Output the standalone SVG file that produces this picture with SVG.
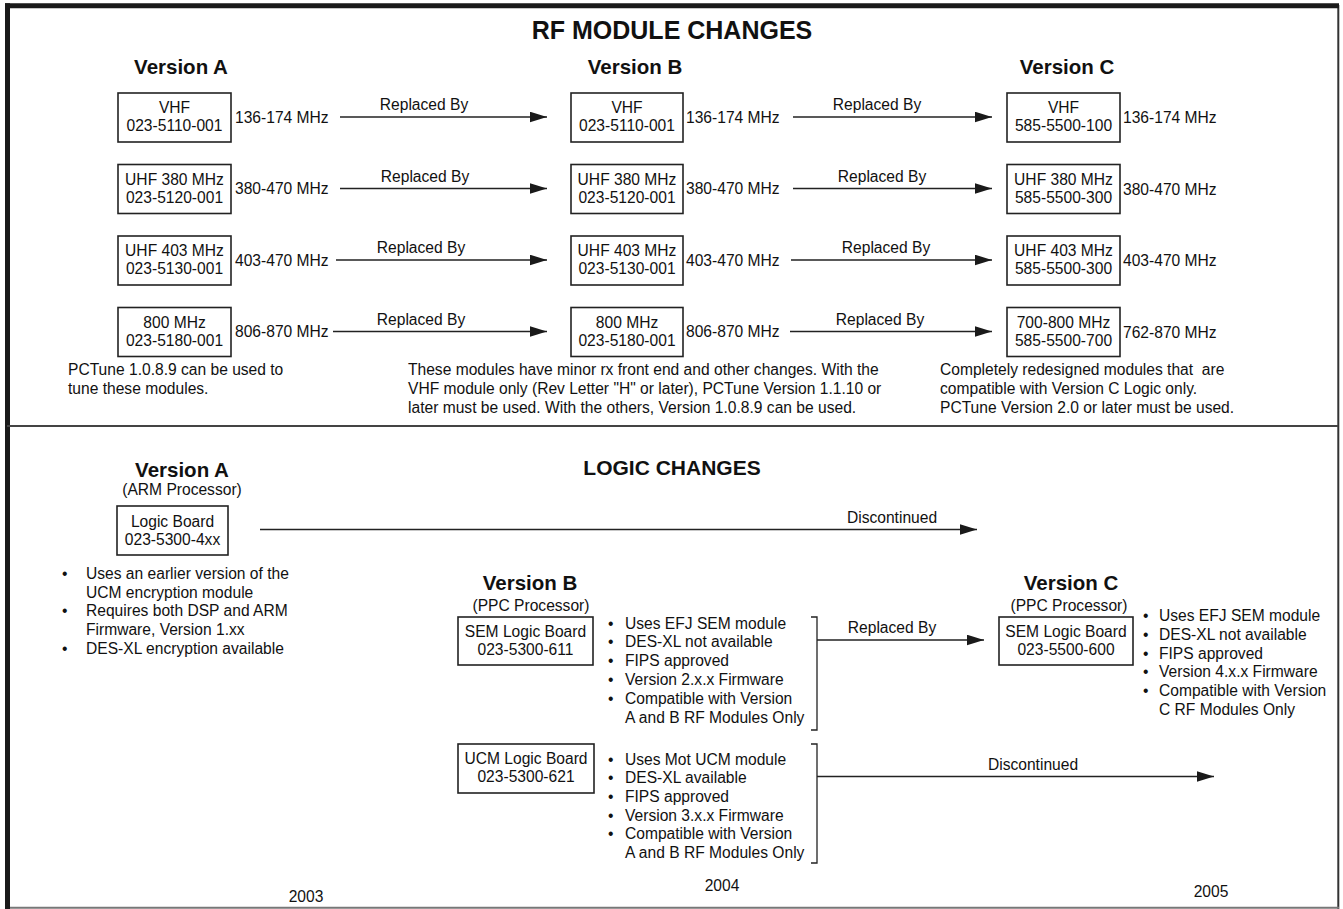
<svg xmlns="http://www.w3.org/2000/svg" width="1343" height="909" viewBox="0 0 1343 909">
<style>
text{font-family:"Liberation Sans",Arial,sans-serif;fill:#111;}
.t{font-size:15.6px;}
.c{text-anchor:middle;}
.h{font-size:20.5px;font-weight:bold;text-anchor:middle;}
.s{font-size:21px;font-weight:bold;text-anchor:middle;}
.box{fill:#fff;stroke:#222;stroke-width:1.6;}
.ln{fill:none;stroke:#222;stroke-width:1.3;}
.arr{marker-end:url(#ah);}
</style>
<defs>
<marker id="ah" markerUnits="userSpaceOnUse" markerWidth="17" markerHeight="11" refX="17" refY="5.3" orient="auto"><path d="M0,0 L17,5.3 L0,10.6 z" fill="#1a1a1a"/></marker>
</defs>
<rect x="0" y="0" width="1343" height="909" fill="#fff"/>
<g id="frame">
<line x1="1338.3" y1="5" x2="1338.3" y2="909" stroke="#333" stroke-width="2"/>
<line x1="5" y1="907.7" x2="1339" y2="907.7" stroke="#777" stroke-width="2"/>
<line x1="5" y1="5.8" x2="1339" y2="5.8" stroke="#1a1a1a" stroke-width="5"/>
<line x1="7.5" y1="3.3" x2="7.5" y2="909" stroke="#1a1a1a" stroke-width="5"/>
<line x1="7" y1="426" x2="1338" y2="426" stroke="#444" stroke-width="2"/>
</g>
<g id="titles">
<text class="s" x="672" y="38.5" style="font-size:25px">RF MODULE CHANGES</text>
<text class="h" x="181" y="74">Version A</text>
<text class="h" x="635" y="74">Version B</text>
<text class="h" x="1067" y="74">Version C</text>
<text class="s" x="672" y="474.5">LOGIC CHANGES</text>
</g>
<g id="connectors">
<line class="ln arr" x1="340" y1="117" x2="547" y2="117"/>
<line class="ln arr" x1="793" y1="117" x2="992" y2="117"/>
<line class="ln arr" x1="340" y1="188.5" x2="547" y2="188.5"/>
<line class="ln arr" x1="793" y1="188.5" x2="992" y2="188.5"/>
<line class="ln arr" x1="336" y1="260" x2="547" y2="260"/>
<line class="ln arr" x1="791" y1="260" x2="992" y2="260"/>
<line class="ln arr" x1="333" y1="331.5" x2="547" y2="331.5"/>
<line class="ln arr" x1="790" y1="331.5" x2="992" y2="331.5"/>
<line class="ln arr" x1="260" y1="529.5" x2="977" y2="529.5"/>
<path class="ln" d="M811,617 H817 V730 H811"/>
<line class="ln arr" x1="817" y1="640" x2="984" y2="640"/>
<path class="ln" d="M811,744 H817 V863 H811"/>
<line class="ln arr" x1="817" y1="776.5" x2="1214" y2="776.5"/>
<text class="t c" x="424" y="110">Replaced By</text>
<text class="t c" x="877" y="110">Replaced By</text>
<text class="t c" x="425" y="181.5">Replaced By</text>
<text class="t c" x="882" y="181.5">Replaced By</text>
<text class="t c" x="421" y="253">Replaced By</text>
<text class="t c" x="886" y="253">Replaced By</text>
<text class="t c" x="421" y="324.5">Replaced By</text>
<text class="t c" x="880" y="324.5">Replaced By</text>
<text class="t c" x="892" y="522.5">Discontinued</text>
<text class="t c" x="892" y="633">Replaced By</text>
<text class="t c" x="1033" y="769.5">Discontinued</text>
</g>
<g id="rfA1"><rect class="box" x="118" y="93" width="113" height="49"/><text class="t c" x="174.5" y="113">VHF</text><text class="t c" x="174.5" y="131">023-5110-001</text><text class="t" x="235" y="122.5">136-174 MHz</text></g>
<g id="rfB1"><rect class="box" x="571" y="93" width="112" height="49"/><text class="t c" x="627" y="113">VHF</text><text class="t c" x="627" y="131">023-5110-001</text><text class="t" x="686" y="122.5">136-174 MHz</text></g>
<g id="rfC1"><rect class="box" x="1007" y="93" width="113" height="49"/><text class="t c" x="1063.5" y="113">VHF</text><text class="t c" x="1063.5" y="131">585-5500-100</text><text class="t" x="1123" y="123">136-174 MHz</text></g>
<g id="rfA2"><rect class="box" x="118" y="164.5" width="113" height="49"/><text class="t c" x="174.5" y="184.5">UHF 380 MHz</text><text class="t c" x="174.5" y="202.5">023-5120-001</text><text class="t" x="235" y="194">380-470 MHz</text></g>
<g id="rfB2"><rect class="box" x="571" y="164.5" width="112" height="49"/><text class="t c" x="627" y="184.5">UHF 380 MHz</text><text class="t c" x="627" y="202.5">023-5120-001</text><text class="t" x="686" y="194">380-470 MHz</text></g>
<g id="rfC2"><rect class="box" x="1007" y="164.5" width="113" height="49"/><text class="t c" x="1063.5" y="184.5">UHF 380 MHz</text><text class="t c" x="1063.5" y="202.5">585-5500-300</text><text class="t" x="1123" y="194.5">380-470 MHz</text></g>
<g id="rfA3"><rect class="box" x="118" y="236" width="113" height="49"/><text class="t c" x="174.5" y="256">UHF 403 MHz</text><text class="t c" x="174.5" y="274">023-5130-001</text><text class="t" x="235" y="265.5">403-470 MHz</text></g>
<g id="rfB3"><rect class="box" x="571" y="236" width="112" height="49"/><text class="t c" x="627" y="256">UHF 403 MHz</text><text class="t c" x="627" y="274">023-5130-001</text><text class="t" x="686" y="265.5">403-470 MHz</text></g>
<g id="rfC3"><rect class="box" x="1007" y="236" width="113" height="49"/><text class="t c" x="1063.5" y="256">UHF 403 MHz</text><text class="t c" x="1063.5" y="274">585-5500-300</text><text class="t" x="1123" y="266">403-470 MHz</text></g>
<g id="rfA4"><rect class="box" x="118" y="307.5" width="113" height="49"/><text class="t c" x="174.5" y="327.5">800 MHz</text><text class="t c" x="174.5" y="345.5">023-5180-001</text><text class="t" x="235" y="337">806-870 MHz</text></g>
<g id="rfB4"><rect class="box" x="571" y="307.5" width="112" height="49"/><text class="t c" x="627" y="327.5">800 MHz</text><text class="t c" x="627" y="345.5">023-5180-001</text><text class="t" x="686" y="337">806-870 MHz</text></g>
<g id="rfC4"><rect class="box" x="1007" y="307.5" width="113" height="49"/><text class="t c" x="1063.5" y="327.5">700-800 MHz</text><text class="t c" x="1063.5" y="345.5">585-5500-700</text><text class="t" x="1123" y="337.5">762-870 MHz</text></g>
<g id="noteA"><text class="t" x="68" y="375">PCTune 1.0.8.9 can be used to</text><text class="t" x="68" y="394">tune these modules.</text></g>
<g id="noteB"><text class="t" x="408" y="374.5">These modules have minor rx front end and other changes. With the</text><text class="t" x="408" y="393.5">VHF module only (Rev Letter "H" or later), PCTune Version 1.1.10 or</text><text class="t" x="408" y="412.5">later must be used. With the others, Version 1.0.8.9 can be used.</text></g>
<g id="noteC"><text class="t" x="940" y="374.5" xml:space="preserve" style="white-space:pre">Completely redesigned modules that  are</text><text class="t" x="940" y="393.5">compatible with Version C Logic only.</text><text class="t" x="940" y="412.5">PCTune Version 2.0 or later must be used.</text></g>
<g id="logicA">
<text class="h" x="182" y="477">Version A</text>
<text class="t c" x="182" y="495">(ARM Processor)</text>
<rect class="box" x="117" y="506" width="111" height="49"/>
<text class="t c" x="172.5" y="527">Logic Board</text>
<text class="t c" x="172.5" y="545">023-5300-4xx</text>
<g class="t"><text x="62" y="579">•</text><text x="86" y="579">Uses an earlier version of the</text><text x="86" y="597.7">UCM encryption module</text><text x="62" y="616.4">•</text><text x="86" y="616.4">Requires both DSP and ARM</text><text x="86" y="635.1">Firmware, Version 1.xx</text><text x="62" y="653.8">•</text><text x="86" y="653.8">DES-XL encryption available</text></g>
</g>
<g id="logicB">
<text class="h" x="530" y="590">Version B</text>
<text class="t c" x="531" y="611">(PPC Processor)</text>
<rect class="box" x="458" y="617" width="135" height="48"/>
<text class="t c" x="525.5" y="637">SEM Logic Board</text>
<text class="t c" x="525.5" y="655">023-5300-611</text>
<g class="t"><text x="608" y="628.5">•</text><text x="625" y="628.5">Uses EFJ SEM module</text><text x="608" y="647.3">•</text><text x="625" y="647.3">DES-XL not available</text><text x="608" y="666.1">•</text><text x="625" y="666.1">FIPS approved</text><text x="608" y="684.9">•</text><text x="625" y="684.9">Version 2.x.x Firmware</text><text x="608" y="703.7">•</text><text x="625" y="703.7">Compatible with Version</text><text x="625" y="722.5">A and B RF Modules Only</text></g>
</g>
<g id="logicUCM">
<rect class="box" x="458" y="744" width="136" height="49"/>
<text class="t c" x="526" y="764">UCM Logic Board</text>
<text class="t c" x="526" y="782">023-5300-621</text>
<g class="t"><text x="608" y="764.5">•</text><text x="625" y="764.5">Uses Mot UCM module</text><text x="608" y="783.2">•</text><text x="625" y="783.2">DES-XL available</text><text x="608" y="801.9">•</text><text x="625" y="801.9">FIPS approved</text><text x="608" y="820.6">•</text><text x="625" y="820.6">Version 3.x.x Firmware</text><text x="608" y="839.3">•</text><text x="625" y="839.3">Compatible with Version</text><text x="625" y="858">A and B RF Modules Only</text></g>
</g>
<g id="logicC">
<text class="h" x="1071" y="590">Version C</text>
<text class="t c" x="1069" y="611">(PPC Processor)</text>
<rect class="box" x="999" y="617" width="134" height="48"/>
<text class="t c" x="1066" y="637">SEM Logic Board</text>
<text class="t c" x="1066" y="655">023-5500-600</text>
<g class="t"><text x="1143" y="621">•</text><text x="1159" y="621">Uses EFJ SEM module</text><text x="1143" y="639.8">•</text><text x="1159" y="639.8">DES-XL not available</text><text x="1143" y="658.6">•</text><text x="1159" y="658.6">FIPS approved</text><text x="1143" y="677.4">•</text><text x="1159" y="677.4">Version 4.x.x Firmware</text><text x="1143" y="696.2">•</text><text x="1159" y="696.2">Compatible with Version</text><text x="1159" y="715">C RF Modules Only</text></g>
</g>
<g id="years">
<text class="t c" x="306" y="902">2003</text>
<text class="t c" x="722" y="891">2004</text>
<text class="t c" x="1211" y="897">2005</text>
</g>
</svg>
